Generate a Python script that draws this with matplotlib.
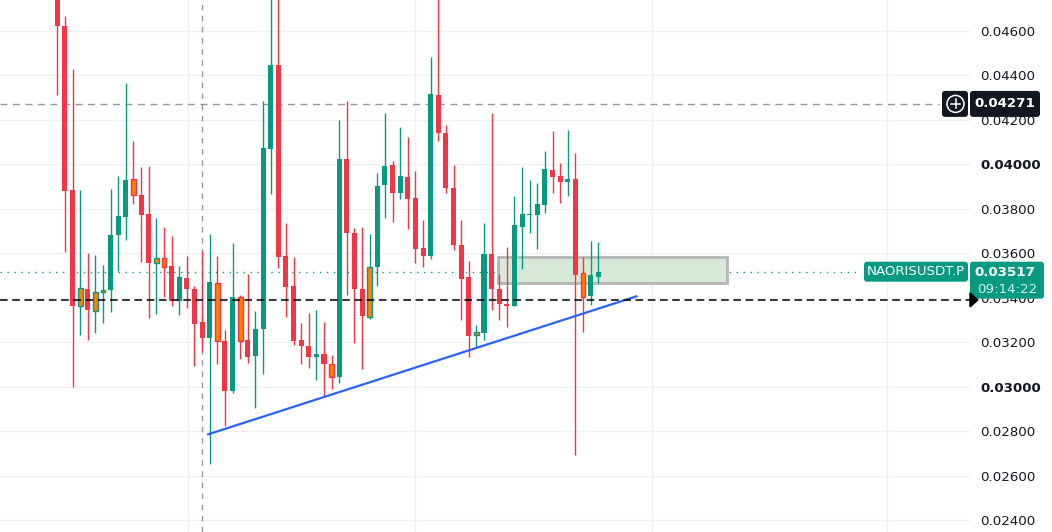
import numpy as np
import matplotlib
matplotlib.use('Agg')
from matplotlib import pyplot as plt
from matplotlib.patches import FancyBboxPatch, Polygon, Ellipse, Rectangle
from matplotlib.lines import Line2D

# candle data (NAORISUSDT.P)
opens = [0.04760, 0.04622, 0.03885, 0.03363, 0.03439, 0.03342, 0.03426, 0.03433, 0.03683, 0.03764,
         0.03935, 0.03863, 0.03775, 0.03557, 0.03577, 0.03541, 0.03384, 0.03489, 0.03439, 0.03290,
         0.03220, 0.03465, 0.03206, 0.02982, 0.03405, 0.03210, 0.03137, 0.03261, 0.04068, 0.04446,
         0.03586, 0.03453, 0.03210, 0.03184, 0.03132, 0.03148, 0.03103, 0.03044, 0.04023, 0.03691,
         0.03439, 0.03315, 0.03538, 0.03905, 0.03996, 0.03869, 0.03943, 0.03847, 0.03622, 0.03588,
         0.04310, 0.04142, 0.03894, 0.03638, 0.03493, 0.03231, 0.03243, 0.03595, 0.03439, 0.03370,
         0.03361, 0.03719, 0.03773, 0.03773, 0.03817, 0.03974, 0.03947, 0.03919, 0.03935, 0.03510,
         0.03406, 0.03494]
closes = [0.04621, 0.03878, 0.03363, 0.03442, 0.03345, 0.03426, 0.03435, 0.03683, 0.03767, 0.03930,
          0.03860, 0.03773, 0.03556, 0.03577, 0.03539, 0.03384, 0.03493, 0.03438, 0.03282, 0.03220,
          0.03471, 0.03204, 0.02982, 0.03405, 0.03207, 0.03132, 0.03259, 0.04072, 0.04446, 0.03583,
          0.03450, 0.03207, 0.03182, 0.03132, 0.03148, 0.03102, 0.03044, 0.04023, 0.03692, 0.03441,
          0.03318, 0.03539, 0.03903, 0.03992, 0.03869, 0.03947, 0.03844, 0.03618, 0.03588, 0.04314,
          0.04139, 0.03892, 0.03636, 0.03486, 0.03229, 0.03245, 0.03595, 0.03438, 0.03370, 0.03361,
          0.03727, 0.03775, 0.03775, 0.03820, 0.03978, 0.03944, 0.03919, 0.03935, 0.03503, 0.03403,
          0.03501, 0.03517]
highs = [0.04780, 0.04667, 0.04428, 0.03885, 0.03601, 0.03592, 0.03547, 0.03890, 0.03947, 0.04366,
         0.04103, 0.03987, 0.03993, 0.03758, 0.03718, 0.03679, 0.03541, 0.03586, 0.03454, 0.03611,
         0.03688, 0.03586, 0.03255, 0.03647, 0.03414, 0.03507, 0.03339, 0.04283, 0.04780, 0.04780,
         0.03736, 0.03582, 0.03285, 0.03330, 0.03343, 0.03290, 0.03144, 0.04199, 0.04283, 0.03713,
         0.03718, 0.03688, 0.03961, 0.04230, 0.04014, 0.04169, 0.04124, 0.03970, 0.03749, 0.04482,
         0.04780, 0.04178, 0.03996, 0.03749, 0.03564, 0.03276, 0.03736, 0.04230, 0.03505, 0.03629,
         0.03856, 0.03989, 0.03930, 0.03917, 0.04058, 0.04151, 0.04005, 0.04155, 0.04049, 0.03582,
         0.03656, 0.03652]
lows = [0.04311, 0.03605, 0.03000, 0.03234, 0.03211, 0.03243, 0.03286, 0.03336, 0.03520, 0.03658,
        0.03821, 0.03559, 0.03308, 0.03327, 0.03402, 0.03363, 0.03322, 0.03354, 0.03093, 0.03161,
        0.02653, 0.03102, 0.02824, 0.02973, 0.03123, 0.03105, 0.02903, 0.03057, 0.03865, 0.03534,
        0.03313, 0.03189, 0.03102, 0.03084, 0.03030, 0.02955, 0.02991, 0.03018, 0.03411, 0.03198,
        0.03080, 0.03304, 0.03454, 0.03760, 0.03742, 0.03842, 0.03710, 0.03556, 0.03538, 0.03574,
        0.04104, 0.03869, 0.03613, 0.03300, 0.03132, 0.03173, 0.03210, 0.03345, 0.03300, 0.03270,
        0.03361, 0.03528, 0.03690, 0.03620, 0.03779, 0.03869, 0.03826, 0.03857, 0.02695, 0.03245,
        0.03367, 0.03468]
# candles painted orange by the indicator
orange_idx = [3, 5, 6, 10, 13, 14, 21, 24, 36, 41, 55, 69]

price_ticks = [0.024, 0.026, 0.028, 0.030, 0.032, 0.034, 0.036, 0.038, 0.040, 0.042, 0.044, 0.046]
time_grid = [17.1, 47.0, 78.0, 108.9]

last_price = 0.03517
marked_price = 0.04271
black_level = 0.0339
trend_x = [19.8, 76.0]
trend_y = [0.02786, 0.03406]
zone_x = [57.9, 87.9]
zone_y = [0.03465, 0.03583]
event_x = 19.05

GREEN = '#089981'
RED = '#f23645'
ORANGE = '#ff8000'
TEXT = '#131722'

plt.rcParams['font.family'] = ['DejaVu Sans']
W, H = 1052, 532
fig = plt.figure(figsize=(W / 100, H / 100), dpi=100)
ax = fig.add_axes([0, 0, 970 / W, 1])
ax.set_xlim(-7.52, 119.78)
ax.set_ylim(0.02347, 0.04738)

# grid
for p in price_ticks:
    ax.axhline(p, color='#f0f1f4', lw=1, zorder=0)
for t in time_grid:
    ax.axvline(t, color='#f0f1f4', lw=1, zorder=0)

# candles
x = np.arange(len(opens))
for i in x:
    o, c, h, l = opens[i], closes[i], highs[i], lows[i]
    col = GREEN if c >= o else RED
    ax.vlines(i, l, h, color=col, lw=1, zorder=3)
    bottom = min(o, c)
    height = max(abs(c - o), 0.00005)
    if i in orange_idx:
        ax.bar(i, height, bottom=bottom, width=0.62, color=ORANGE, edgecolor=col, lw=1, zorder=4)
    else:
        ax.bar(i, height, bottom=bottom, width=0.66, color=col, lw=0, zorder=4)

# zone and trend line
ax.add_patch(Rectangle((zone_x[0], zone_y[0]), zone_x[1] - zone_x[0], zone_y[1] - zone_y[0],
                       facecolor='#d8e8d8', edgecolor='#b5b5b5', lw=2, zorder=2))
ax.plot(trend_x, trend_y, color='#2962ff', lw=1.6, zorder=5)

# level lines
ax.axvline(event_x, color='#9598a1', lw=1, ls=(0, (4, 4)), zorder=1)
ax.plot([-7.52, 115.7], [marked_price] * 2, color='#9598a1', lw=1, ls=(0, (5, 4)), zorder=1)
ax.plot([-7.52, 105.5], [last_price] * 2, color=GREEN, lw=1, ls=(0, (1, 4)), zorder=1)
ax.axhline(black_level, color='black', lw=1.1, ls=(0, (5, 3)), zorder=6)

# right price scale
ax.yaxis.tick_right()
ax.set_yticks(price_ticks)
ax.set_yticklabels(['%.5f' % p for p in price_ticks])
ax.tick_params(axis='y', length=0, pad=7.5, labelsize=9.6, labelcolor=TEXT)
for lab, p in zip(ax.get_yticklabels(), price_ticks):
    if abs(p - 0.030) < 1e-9 or abs(p - 0.040) < 1e-9:
        lab.set_fontweight('bold')
ax.set_xticks(time_grid)
ax.tick_params(axis='x', length=0, labelbottom=False)
ax.grid(False)
for s in ax.spines.values():
    s.set_visible(False)


def ypx(price):
    return ax.transData.transform((0, price))[1]


def box(x0, x1, y0, y1, color, r=3):
    p = FancyBboxPatch((x0 / W, y0 / H), (x1 - x0) / W, (y1 - y0) / H,
                       boxstyle='round,pad=0,rounding_size=%f' % (r / W),
                       transform=fig.transFigure, facecolor=color, edgecolor='none',
                       mutation_aspect=W / H, zorder=10)
    fig.add_artist(p)


# 0.04271 marker
ym = ypx(marked_price)
box(942, 968, ym - 13, ym + 13, TEXT)
box(970, 1040, ym - 13, ym + 13, TEXT)
cx = 955.5
fig.add_artist(Ellipse((cx / W, ym / H), 17 / W, 17 / H, transform=fig.transFigure, fill=False,
                       edgecolor='white', lw=1.1, zorder=11))
fig.add_artist(Line2D([(cx - 4.5) / W, (cx + 4.5) / W], [ym / H] * 2, transform=fig.transFigure,
                      color='white', lw=1.1, zorder=12))
fig.add_artist(Line2D([cx / W] * 2, [(ym - 4.5) / H, (ym + 4.5) / H], transform=fig.transFigure,
                      color='white', lw=1.1, zorder=12))
fig.text(1005 / W, ym / H, '0.04271', color='white', ha='center', va='center',
         fontsize=9.6, fontweight='bold', zorder=12)

# last price labels
yl = ypx(last_price)
box(864, 968, yl - 10, yl + 10, GREEN)
fig.text(916 / W, yl / H, 'NAORISUSDT.P', color='white', ha='center', va='center', fontsize=9.6, zorder=12)
box(970, 1044, yl - 27, yl + 10, GREEN)
fig.text(1005 / W, (yl - 1) / H, '0.03517', color='white', ha='center', va='center',
         fontsize=9.6, fontweight='bold', zorder=12)
fig.text(1007 / W, (yl - 18) / H, '09:14:22', color='#d2eee9', ha='center', va='center',
         fontsize=9.6, zorder=12)

# black level arrow
yb = ypx(black_level)
fig.add_artist(Polygon([(970 / W, (yb + 7) / H), (970 / W, (yb - 7) / H), (978 / W, yb / H)],
                       closed=True, transform=fig.transFigure, color='black', zorder=13))

fig.savefig('out.png', dpi=100)
